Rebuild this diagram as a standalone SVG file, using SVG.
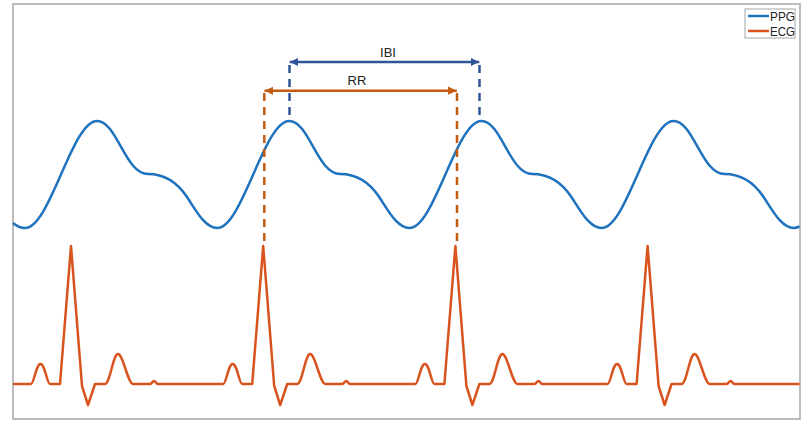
<svg xmlns="http://www.w3.org/2000/svg" width="805" height="427" viewBox="0 0 805 427">
  <style>
    .frame { fill: #ffffff; stroke: #a6a6a6; stroke-width: 1.5; }
    .ppg { fill: none; stroke: #1f72bd; stroke-width: 2.5; stroke-linejoin: round; }
    .ecg { fill: none; stroke: #d9531e; stroke-width: 2.5; stroke-linejoin: round; }
    .rr { fill: none; stroke: #c55a11; stroke-width: 2.5; }
    .ibi { fill: none; stroke: #2f5597; stroke-width: 2.5; }
    .dash { stroke-dasharray: 8 6; }
    .lbl { font-family: "Liberation Sans", Arial, sans-serif; font-size: 13px; fill: #222222; }
    .leg { font-family: "Liberation Sans", Arial, sans-serif; font-size: 12.5px; fill: #222222; }
  </style>
  <defs>
    <marker id="arrRR" markerUnits="userSpaceOnUse" markerWidth="10" markerHeight="10" refX="7" refY="4" orient="auto-start-reverse" viewBox="0 0 8 8">
      <path d="M0,0.7 L7,4 L0,7.3 Z" fill="#c55a11"/>
    </marker>
    <marker id="arrIBI" markerUnits="userSpaceOnUse" markerWidth="10" markerHeight="10" refX="7" refY="4" orient="auto-start-reverse" viewBox="0 0 8 8">
      <path d="M0,0.7 L7,4 L0,7.3 Z" fill="#2f5597"/>
    </marker>
  </defs>

  <g id="plot-frame">
    <rect class="frame" x="13" y="4" width="787" height="415"/>
  </g>

  <g id="ppg-signal">
    <path class="ppg" d="M13,223 C17,226.5 21,228 25,228
      c25,0 47,-107 72,-107 c20,0 28,53 51,53 c22,0 33,14 39,23 c9,13.5 18,31 30.2,31
      c25,0 47,-107 72,-107 c20,0 28,53 51,53 c22,0 33,14 39,23 c9,13.5 18,31 30.2,31
      c25,0 47,-107 72,-107 c20,0 28,53 51,53 c22,0 33,14 39,23 c9,13.5 18,31 30.2,31
      c25,0 47,-107 72,-107 c20,0 28,53 51,53 c22,0 33,14 39,23 c9,13.5 18,31 30.2,31
      c2,0 3.5,-0.5 5.7,-1.5"/>
  </g>

  <g id="ecg-signal">
    <path class="ecg" d="M13,384 H31
      c3,0 5,-20 9.5,-20 c4.5,0 6.5,20 9.5,20 h10 l11,-138 l11,140 l6,19 l7,-21 h10 c5,0 8,-30 13,-30 c5,0 10,30 15,30 h17 c2,0 2.5,-3 4,-3 c1.5,0 2,3 4,3 h65.2
      c3,0 5,-20 9.5,-20 c4.5,0 6.5,20 9.5,20 h10 l11,-138 l11,140 l6,19 l7,-21 h10 c5,0 8,-30 13,-30 c5,0 10,30 15,30 h17 c2,0 2.5,-3 4,-3 c1.5,0 2,3 4,3 h65.2
      c3,0 5,-20 9.5,-20 c4.5,0 6.5,20 9.5,20 h10 l11,-138 l11,140 l6,19 l7,-21 h10 c5,0 8,-30 13,-30 c5,0 10,30 15,30 h17 c2,0 2.5,-3 4,-3 c1.5,0 2,3 4,3 h65.2
      c3,0 5,-20 9.5,-20 c4.5,0 6.5,20 9.5,20 h10 l11,-138 l11,140 l6,19 l7,-21 h10 c5,0 8,-30 13,-30 c5,0 10,30 15,30 h17 c2,0 2.5,-3 4,-3 c1.5,0 2,3 4,3 h65"/>
  </g>

  <g id="connectors">
    <path class="rr dash" d="M264.3,93 V243"/>
    <path class="rr dash" d="M457,93 V242"/>
    <path class="rr" d="M264.5,90.7 H456.8" marker-start="url(#arrRR)" marker-end="url(#arrRR)"/>
    <path class="ibi dash" d="M289.5,65 V115"/>
    <path class="ibi dash" d="M479.5,65 V115"/>
    <path class="ibi" d="M289.7,62 H479.3" marker-start="url(#arrIBI)" marker-end="url(#arrIBI)"/>
  </g>

  <g id="label-ibi">
    <text class="lbl" x="388" y="57" text-anchor="middle">IBI</text>
  </g>
  <g id="label-rr">
    <text class="lbl" x="357" y="85" text-anchor="middle">RR</text>
  </g>

  <g id="legend">
    <rect x="745" y="9" width="50" height="29" fill="#ffffff" stroke="#a6a6a6" stroke-width="1"/>
    <line x1="748" y1="16" x2="769" y2="16" stroke="#1f72bd" stroke-width="2.5"/>
    <line x1="748" y1="31" x2="769" y2="31" stroke="#d9531e" stroke-width="2.5"/>
    <text class="leg" x="770" y="20.5" textLength="25" lengthAdjust="spacingAndGlyphs">PPG</text>
    <text class="leg" x="770" y="35.5" textLength="25" lengthAdjust="spacingAndGlyphs">ECG</text>
  </g>
</svg>
